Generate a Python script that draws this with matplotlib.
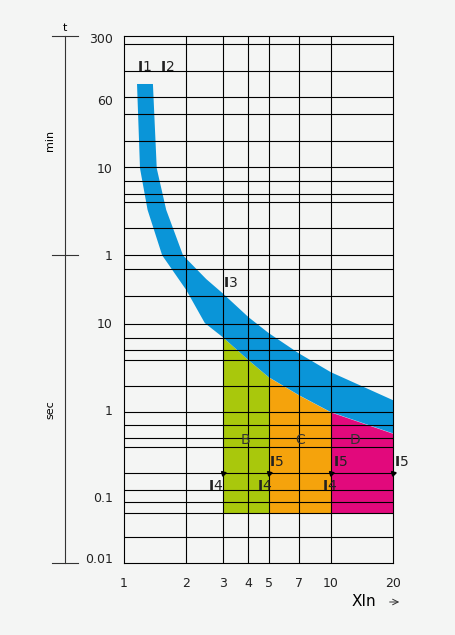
import numpy as np
import matplotlib.pyplot as plt
from matplotlib.lines import Line2D

# tripping band: lower (I1) and upper (I2) edges, x in multiples of In, t in seconds
lower_x = [1.156, 1.195, 1.30, 1.53, 2.0, 2.46, 3, 4, 5, 7, 10, 20]
lower_t = [5590, 600, 200, 60, 24, 10, 6.9, 3.75, 2.4, 1.49, 0.95, 0.54]
upper_x = [1.38, 1.44, 1.6, 1.93, 2.5, 3, 4, 5, 7, 10, 20]
upper_t = [5590, 600, 200, 60, 32, 22, 11.7, 7.7, 4.5, 2.73, 1.3]

# characteristic regions B, C, D
regions = [("B", 3, 5, "#a9c80c"), ("C", 5, 10, "#f5a30c"), ("D", 10, 20, "#e2097c")]
region_bottom = 0.066

grid_x = [2, 3, 4, 5, 7, 10]
grid_t = [16100, 7880, 3960, 2530, 1236, 621, 429, 304, 246, 124, 60.5, 42, 20.4,
          9.7, 6.7, 4.9, 3.8, 1.9, 0.95, 0.67, 0.48, 0.376, 0.19, 0.12, 0.088,
          0.066, 0.035]
ytick_pos = [19000, 3700, 600, 60, 10, 1, 0.1, 0.02]
ytick_lab = ["300", "60", "10", "1", "10", "1", "0.1", "0.01"]
xticks = [1, 2, 3, 4, 5, 7, 10, 20]

bg = "#f4f5f4"
fig = plt.figure(figsize=(4.55, 6.35), dpi=100, facecolor=bg)
ax = fig.add_axes([124/455, 72/635, 269/455, 527/635], facecolor=bg)
ax.set_xscale("log")
ax.set_yscale("log")
ax.set_xlim(1, 20)
ax.set_ylim(0.0175, 19900)

for gx in grid_x:
    ax.axvline(gx, color="black", lw=0.8, zorder=3)
for gt in grid_t:
    ax.axhline(gt, color="black", lw=0.8, zorder=3)

# regions under the lower edge
lx = np.log(lower_x)
lt = np.log(lower_t)
for name, x0, x1, col in regions:
    xs = np.exp(np.linspace(np.log(x0), np.log(x1), 50))
    top = np.exp(np.interp(np.log(xs), lx, lt))
    ax.fill_between(xs, region_bottom, top, color=col, lw=0, zorder=1)
    ax.text(np.sqrt(x0 * x1) * (1.0 if name != "D" else 0.93), 0.45, name,
            fontsize=10, color="#333333", ha="center", va="center", zorder=5)

# blue band
bx = lower_x + upper_x[::-1]
bt = lower_t + upper_t[::-1]
ax.fill(bx, bt, color="#0a95d8", lw=0, zorder=2)

for s in ax.spines.values():
    s.set_linewidth(0.8)
ax.tick_params(length=0, labelsize=9, colors="#222222", pad=8)
ax.set_xticks(xticks)
ax.set_xticklabels([str(v) for v in xticks])
ax.minorticks_off()
ax.set_yticks(ytick_pos)
ax.set_yticklabels(ytick_lab)
ax.tick_params(axis="x", pad=10)

def ilabel(x, y, sub, **kw):
    ax.text(x, y, r"$\mathbf{I}$" + sub, fontsize=10, color="#222222",
            va="center", zorder=6, **kw)

ilabel(1.15, 8700, "1")
ilabel(1.5, 8700, "2")
ilabel(3.0, 29, "3")
for x in [2.55, 4.4, 9.1]:
    ilabel(x, 0.135, "4")
for x in [5.05, 10.2, 20.3]:
    ilabel(x, 0.255, "5")
for x in [3, 5, 10, 20]:
    ax.plot([x], [0.19], marker=(3, 0, 45), color="black", ms=4, zorder=6,
            clip_on=False)

# left time-unit annotation
def fline(x0, y0, x1, y1, **kw):
    fig.add_artist(Line2D([x0 / 455, x1 / 455], [1 - y0 / 635, 1 - y1 / 635],
                          color="#333333", lw=0.8, **kw))

fline(52, 36, 78, 36)
fline(52, 255, 78, 255)
fline(52, 563, 78, 563)
fline(65, 36, 65, 563)
for y, d in [(36, -1), (255, 1), (255, -1), (563, 1)]:
    fig.text(65 / 455, 1 - (y + 4 * d * -1 * -1) / 635, "", fontsize=1)
fig.text(65 / 455, 1 - 28 / 635, "t", fontsize=8, ha="center", va="center")
fig.text(50 / 455, 1 - 140 / 635, "min", fontsize=8, rotation=90, ha="center", va="center")
fig.text(50 / 455, 1 - 410 / 635, "sec", fontsize=8, rotation=90, ha="center", va="center")
fig.text(352 / 455, 1 - 602 / 635, "XIn", fontsize=11, ha="left", va="center")
fig.add_artist(plt.Annotation("", xy=(402 / 455, 1 - 602 / 635), xytext=(355 / 455 + 0.07, 1 - 602 / 635),
                              xycoords="figure fraction",
                              arrowprops=dict(arrowstyle="->", lw=0.7, color="#333333")))

fig.savefig("out.png", dpi=100, facecolor=bg)
